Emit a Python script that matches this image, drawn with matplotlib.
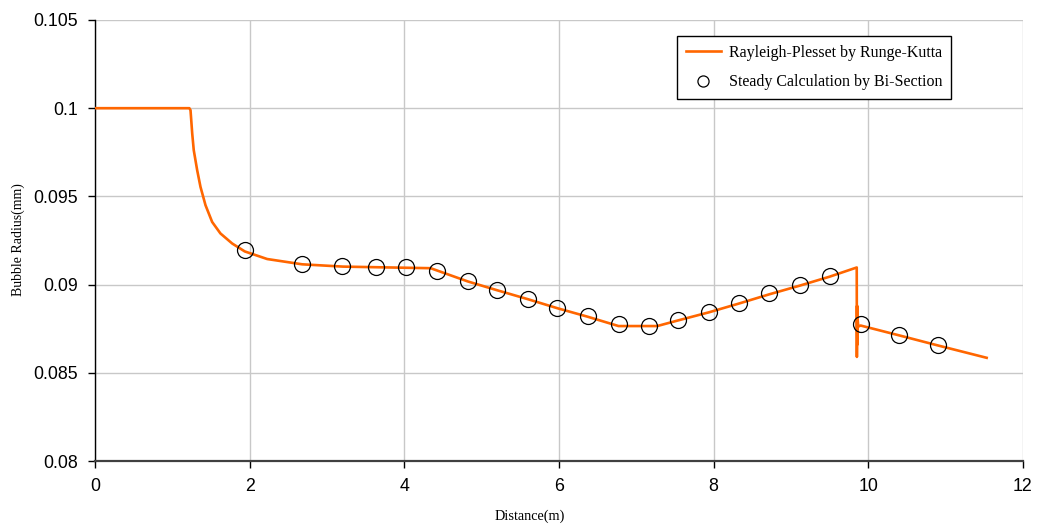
import matplotlib
matplotlib.use("Agg")
import matplotlib.pyplot as plt

# Rayleigh-Plesset (Runge-Kutta) line
line_x = [0.0, 1.22, 1.235, 1.257, 1.277, 1.321, 1.364, 1.429, 1.515, 1.622, 1.774, 1.937,
          2.226, 2.679, 3.204, 3.70, 4.34, 4.82, 5.20, 5.60, 5.98, 6.37, 6.77, 7.27, 7.54,
          7.94, 8.33, 8.72, 9.12, 9.50, 9.85, 9.852, 9.855, 9.858, 9.862, 9.87, 9.90,
          10.40, 10.90, 11.53]
line_y = [0.1, 0.1, 0.09989, 0.09857, 0.09762, 0.09649, 0.09554, 0.09450, 0.09355, 0.09290,
          0.09233, 0.09188, 0.09145, 0.09115, 0.09102, 0.09098, 0.09093, 0.09018, 0.08968,
          0.08917, 0.08866, 0.08818, 0.08765, 0.08765, 0.08797, 0.08843, 0.08893, 0.08945,
          0.08995, 0.09045, 0.09097, 0.08590, 0.08880, 0.08660, 0.08800, 0.08762, 0.08768,
          0.08712, 0.08655, 0.08585]

# Steady calculation (bi-section) points
pts_x = [1.94, 2.68, 3.20, 3.64, 4.02, 4.42, 4.82, 5.20, 5.60, 5.98, 6.37, 6.77, 7.16,
         7.54, 7.94, 8.33, 8.72, 9.12, 9.50, 9.91, 10.40, 10.90]
pts_y = [0.09195, 0.09117, 0.09104, 0.09099, 0.09100, 0.09078, 0.09021, 0.08970, 0.08919,
         0.08868, 0.08823, 0.08774, 0.08766, 0.08798, 0.08845, 0.08896, 0.08950, 0.08998,
         0.09049, 0.08774, 0.08715, 0.08656]

x_ticks = [0, 2, 4, 6, 8, 10, 12]
y_ticks = [0.08, 0.085, 0.09, 0.095, 0.1, 0.105]
y_tick_labels = ["0.08", "0.085", "0.09", "0.095", "0.1", "0.105"]

fig = plt.figure(figsize=(10.42, 5.27), dpi=100)
ax = fig.add_axes([95/1042, 1-461/527, 928/1042, 441/527])

ax.plot(line_x, line_y, color="#FF6600", lw=1.9, label="Rayleigh-Plesset by Runge-Kutta", zorder=3)
ax.plot(pts_x, pts_y, linestyle="none", marker="o", markersize=11.5, markerfacecolor="none",
        markeredgecolor="black", markeredgewidth=0.9, label="Steady Calculation by Bi-Section", zorder=4)

ax.set_xlim(0, 12)
ax.set_ylim(0.08, 0.105)
ax.set_xticks(x_ticks)
ax.set_yticks(y_ticks)
ax.set_yticklabels(y_tick_labels)
ax.grid(True, color="#c8c8c8", lw=1.0)
ax.set_axisbelow(True)

for s in ["top", "right"]:
    ax.spines[s].set_visible(False)
ax.spines["left"].set_color("black")
ax.spines["bottom"].set_color("#404040")
ax.spines["left"].set_linewidth(1.0)
ax.spines["bottom"].set_linewidth(1.6)
ax.tick_params(axis="both", direction="out", length=5, width=1, colors="black",
               labelsize=12.8, pad=7)
for lab in ax.get_xticklabels() + ax.get_yticklabels():
    lab.set_family(["Liberation Sans", "DejaVu Sans"])

ax.set_xlabel("Distance(m)", family=["Liberation Serif", "DejaVu Serif"], fontsize=10.3)
ax.set_ylabel("Bubble Radius(mm)", family=["Liberation Serif", "DejaVu Serif"], fontsize=10)
ax.xaxis.set_label_coords((530-95)/928, (461-510)/441)
ax.yaxis.set_label_coords((25-95)/928, (461-240)/441)

leg = ax.legend(loc="upper left", bbox_to_anchor=((677-95)/928, (461-36)/441), borderaxespad=0,
                prop={"family": ["Liberation Serif", "DejaVu Serif"], "size": 11.5},
                frameon=True, fancybox=False, edgecolor="black", framealpha=1,
                handlelength=2.2, handletextpad=0.5, borderpad=0.55, labelspacing=0.85)
leg.get_frame().set_linewidth(1.0)
for h in leg.legend_handles:
    if hasattr(h, "set_markersize"):
        h.set_markersize(8)

fig.savefig("out.png", dpi=100)
